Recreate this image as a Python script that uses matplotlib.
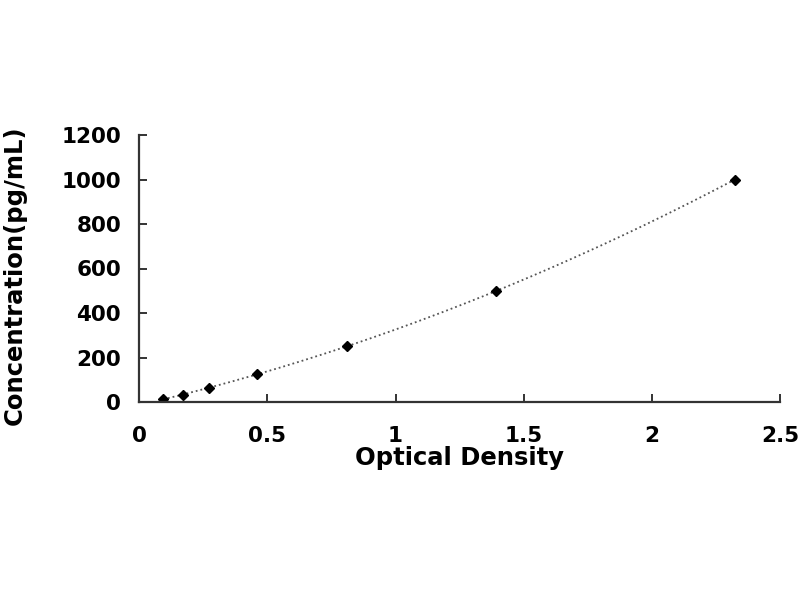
import numpy as np
import matplotlib
matplotlib.use("Agg")
import matplotlib.pyplot as plt

plt.rcParams['font.family'] = 'DejaVu Sans'
plt.rcParams['font.weight'] = 'bold'

# Standard curve readings
od = [0.094, 0.171, 0.273, 0.460, 0.812, 1.392, 2.325]
conc = [15.6, 31.25, 62.5, 125, 250, 500, 1000]

x_ticks = [0, 0.5, 1, 1.5, 2, 2.5]
x_tick_labels = ['0', '0.5', '1', '1.5', '2', '2.5']
y_ticks = [0, 200, 400, 600, 800, 1000, 1200]

fig = plt.figure(figsize=(8, 6), dpi=100)
ax = fig.add_axes([0.174, 0.33, 0.801, 0.445])

# quadratic fit through the standards
coef = np.polyfit(od, conc, 2)
xs = np.linspace(min(od), max(od), 200)
ax.plot(xs, np.polyval(coef, xs), linestyle=':', color='#555555', linewidth=1.3)
ax.plot(od, conc, linestyle='none', marker='D', markersize=5, color='black')

ax.set_xlim(0, 2.5)
ax.set_ylim(0, 1200)
ax.set_xticks(x_ticks)
ax.set_xticklabels(x_tick_labels)
ax.set_yticks(y_ticks)

for side in ['top', 'right']:
    ax.spines[side].set_visible(False)
for side in ['left', 'bottom']:
    ax.spines[side].set_linewidth(1.6)
    ax.spines[side].set_color('#333333')

ax.tick_params(axis='x', direction='in', length=6, width=1.4, color='#333333',
               pad=17, labelsize=15.5)
ax.tick_params(axis='y', direction='in', length=6, width=1.4, color='#333333',
               pad=13, labelsize=15.5)

ax.set_xlabel('Optical Density', fontsize=17.5, fontweight='bold', labelpad=0)
ax.set_ylabel('Concentration(pg/mL)', fontsize=17.5, fontweight='bold')
ax.yaxis.set_label_coords(-0.176, 0.476)

fig.savefig('out.png', dpi=100, facecolor='white')
plt.close(fig)
